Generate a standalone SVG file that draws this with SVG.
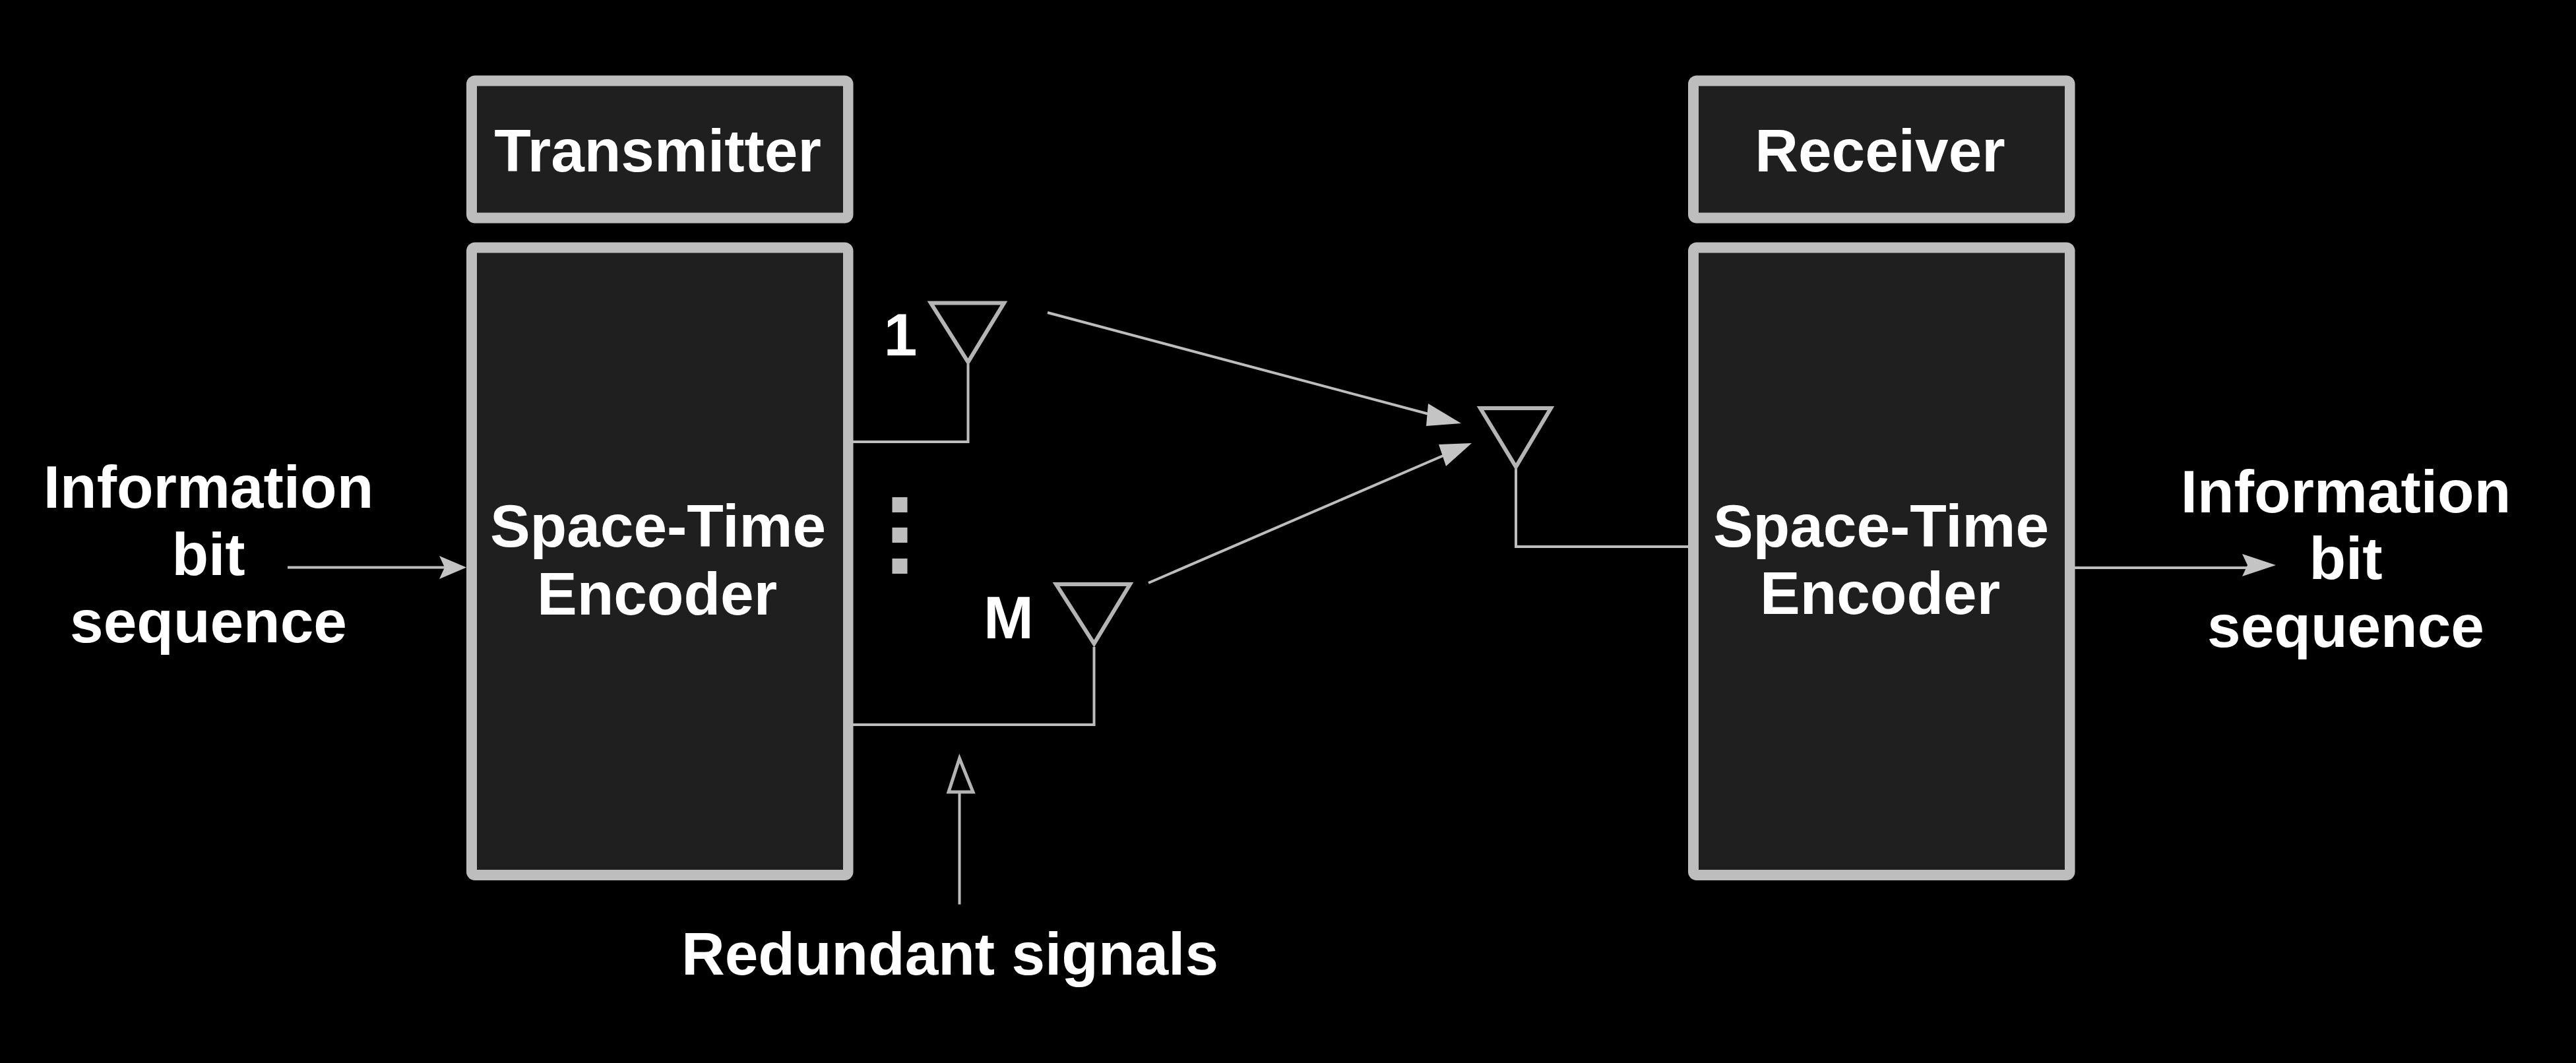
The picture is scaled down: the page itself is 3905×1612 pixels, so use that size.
<svg xmlns="http://www.w3.org/2000/svg" width="3905" height="1612" viewBox="0 0 3905 1612">
<style>
text{font-family:"Liberation Sans",Arial,sans-serif;font-weight:700;font-size:91px;fill:#fff;text-anchor:middle}
.frame{fill:#bdbdbd}
.inner{fill:#1f1f1f}
.ant{fill:none;stroke:#b4b4b4;stroke-width:6}
.arr{fill:none;stroke:#b4b4b4;stroke-width:5}
.wire{fill:none;stroke:#bdbdbd;stroke-width:4}
.head{fill:#c4c4c4;stroke:none}
.dot{fill:#bdbdbd}
</style>
<rect width="3905" height="1612" fill="#000"/>
<g id="connectors">
<path class="wire" d="M1293 670H1467.500V552"/>
<path class="wire" d="M1293 1099H1658.500V981"/>
<path class="wire" d="M2559 829H2298V711"/>
<path class="wire" d="M1588 474L2170 629"/>
<path class="head" d="M2215 642L2165 612L2162 646Z"/>
<path class="wire" d="M1741 884L2190 690"/>
<path class="head" d="M2231 672L2181 674L2192 707Z"/>
<path class="wire" d="M436 860.500H680"/>
<path class="head" d="M707 860.500L666 843L674 860.500L666 878Z"/>
<path class="wire" d="M3145 861H3410"/>
<path class="head" d="M3450 857L3399 840L3407 857L3399 874Z"/>
<path class="wire" d="M1454.500 1371.500V1201"/>
<path class="arr" d="M1454.500 1150L1438 1201H1475Z"/>
</g>
<g id="transmitter"><rect class="frame" x="707" y="114.500" width="586.500" height="224" rx="13"/><rect class="inner" x="723" y="130.500" width="555" height="192"/><text x="997" y="259.500">Transmitter</text></g>
<g id="encoder-tx"><rect class="frame" x="707" y="367.500" width="586.500" height="967.500" rx="13"/><rect class="inner" x="723" y="383.500" width="555" height="935.500"/><text x="997.500" y="829">Space-Time</text><text x="996" y="932">Encoder</text></g>
<g id="receiver"><rect class="frame" x="2559" y="114.500" width="586.500" height="224" rx="13"/><rect class="inner" x="2575" y="130.500" width="555" height="192"/><text x="2850" y="259.500">Receiver</text></g>
<g id="encoder-rx"><rect class="frame" x="2559" y="367.500" width="586.500" height="967.500" rx="13"/><rect class="inner" x="2575" y="383.500" width="555" height="935.500"/><text x="2851.500" y="829">Space-Time</text><text x="2850" y="931">Encoder</text></g>
<g id="antenna-1"><path class="ant" d="M1411 459.500H1522L1467.500 549Z"/><text x="1365" y="539">1</text></g>
<g id="antenna-m"><path class="ant" d="M1601 886H1713L1658.500 976Z"/><text x="1529" y="968">M</text></g>
<g id="antenna-rx"><path class="ant" d="M2244 619H2351L2298 708Z"/></g>
<g id="dots"><rect class="dot" x="1352.500" y="754" width="23" height="23"/><rect class="dot" x="1352.500" y="800" width="23" height="23"/><rect class="dot" x="1352.500" y="847" width="23" height="23"/></g>
<g id="input-label"><text x="316" y="770">Information</text><text x="316" y="872">bit</text><text x="316" y="974">sequence</text></g>
<g id="output-label"><text x="3556" y="777">Information</text><text x="3556" y="878">bit</text><text x="3556" y="981">sequence</text></g>
<g id="redundant-label"><text x="1440" y="1478">Redundant signals</text></g>
</svg>
